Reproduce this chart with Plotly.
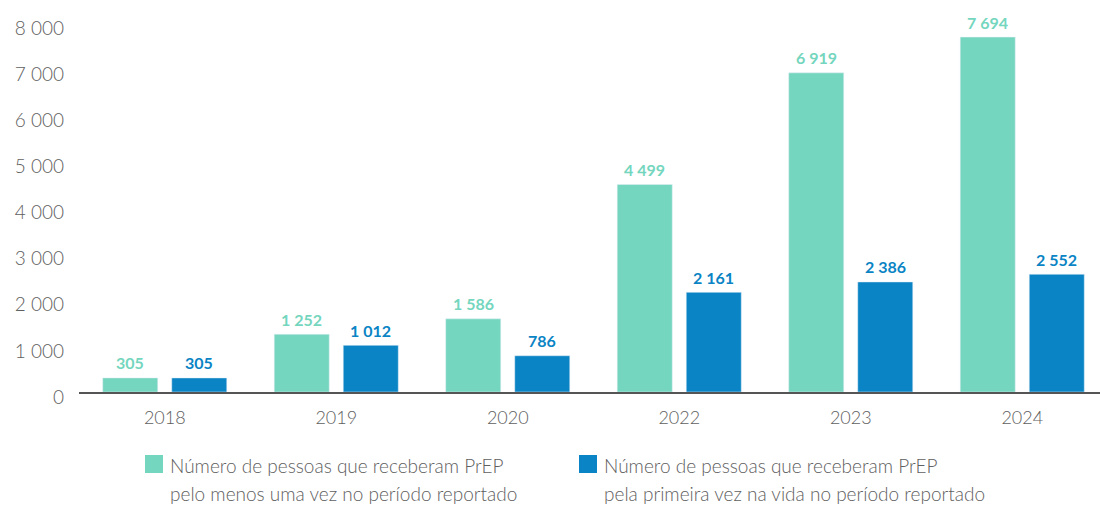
import plotly.graph_objects as go

# PrEP users per year
years = ["2018", "2019", "2020", "2022", "2023", "2024"]
at_least_once = [305, 1252, 1586, 4499, 6919, 7694]
first_time = [305, 1012, 786, 2161, 2386, 2552]

legend_lines_1 = ["Número de pessoas que receberam PrEP",
                  "pelo menos uma vez no período reportado"]
legend_lines_2 = ["Número de pessoas que receberam PrEP",
                  "pela primeira vez na vida no período reportado"]

TEAL = "#74D6BE"
BLUE = "#0A84C4"
GREY = "#606060"
FONT = "Lato"

W, H = 1100, 506
ML, MR, MT, MB = 79, 0, 23, 114
PW = W - ML - MR
PH = H - MT - MB
STEP = 171.5  # pixels per category


def fmt(v):
    return f"{v:,}".replace(",", " ")


def px_x(x):
    return (x - ML) / PW


def px_y(y):
    return (H - MB - y) / PH


fig = go.Figure()
fig.add_trace(go.Bar(x=years, y=at_least_once, marker_color=TEAL,
                     name=legend_lines_1[0], showlegend=False))
fig.add_trace(go.Bar(x=years, y=first_time, marker_color=BLUE,
                     name=legend_lines_2[0], showlegend=False))

# value labels above each bar (category index used for x)
for vals, color, shift in ((at_least_once, TEAL, -34.5), (first_time, BLUE, 34.5)):
    for i, v in enumerate(vals):
        fig.add_annotation(x=i, y=v, xref="x", yref="y", text=fmt(v),
                           showarrow=False, xshift=shift, yshift=15,
                           yanchor="middle",
                           font=dict(family=FONT, size=16, color=color,
                                     weight="bold"))

# legend: coloured squares with two-line captions
for sq_x, color, lines in ((145, TEAL, legend_lines_1), (579, BLUE, legend_lines_2)):
    fig.add_shape(type="rect", xref="paper", yref="paper",
                  x0=px_x(sq_x), x1=px_x(sq_x + 18),
                  y0=px_y(455), y1=px_y(473),
                  fillcolor=color, line_width=0)
    for i, line in enumerate(lines):
        fig.add_annotation(xref="paper", yref="paper", x=px_x(sq_x + 23),
                           y=px_y(465 + 28 * i), text=line, showarrow=False,
                           xanchor="left", yanchor="middle",
                           font=dict(family=FONT, size=19, color=GREY,
                                     weight=300))

fig.update_layout(
    width=W, height=H,
    margin=dict(l=ML, r=MR, t=MT, b=MB),
    paper_bgcolor="white", plot_bgcolor="white",
    barmode="group", bargap=0.195, bargroupgap=0.203,
    separators=". ",
    font=dict(family=FONT, color=GREY),
    showlegend=False,
)
fig.update_xaxes(
    type="category", range=[-0.5, -0.5 + PW / STEP],
    showline=True, linecolor="#555555", linewidth=1.5,
    showgrid=False, ticks="", ticklabelstandoff=9,
    tickfont=dict(family=FONT, size=18, color=GREY, weight=300),
)
fig.update_yaxes(
    range=[0, 8000], tickvals=list(range(0, 8001, 1000)), tickformat=",d",
    separatethousands=True,
    showgrid=False, zeroline=False, showline=False, ticks="",
    ticklabelstandoff=14, ticklabelshift=5,
    tickfont=dict(family=FONT, size=19, color=GREY, weight=300),
)

fig.write_html("out.html")
